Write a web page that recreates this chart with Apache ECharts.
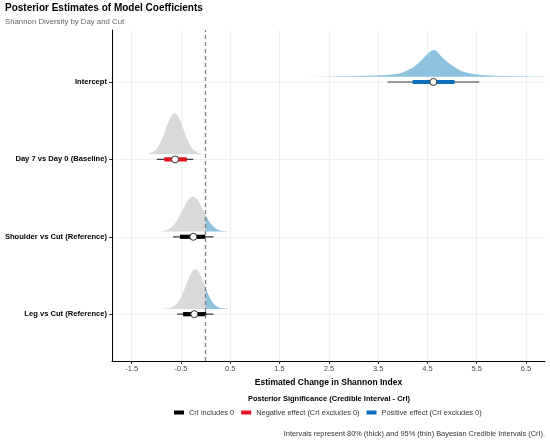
<!DOCTYPE html>
<html>
<head>
<meta charset="utf-8">
<script src="https://cdn.jsdelivr.net/npm/echarts@6/dist/echarts.min.js"></script>
<style>
  html, body { margin: 0; padding: 0; background: #fff; }
  #chart { width: 550px; height: 441px; }
</style>
</head>
<body>
<div id="chart"></div>
<script>
// coefficients, top to bottom
var coefNames = ['Intercept', 'Day 7 vs Day 0 (Baseline)', 'Shoulder vs Cut (Reference)', 'Leg vs Cut (Reference)'];
var rowPos = [4, 3, 2, 1];

// posterior summaries
var medians = [4.62, -0.62, -0.25, -0.23];
var lo80 = [4.20, -0.84, -0.52, -0.46];
var hi80 = [5.05, -0.38, -0.01, 0.01];
var lo95 = [3.69, -0.99, -0.66, -0.58];
var hi95 = [5.55, -0.25, 0.16, 0.16];
var signif = ['pos', 'neg', 'zero', 'zero'];

// posterior densities (x, density)
var densX_intercept = [2.0, 2.5, 3.0, 3.4, 3.7, 3.9, 4.0, 4.1, 4.2, 4.3, 4.4, 4.5, 4.55, 4.6, 4.63, 4.67, 4.7, 4.8, 4.9, 5.0, 5.1, 5.2, 5.37, 5.6, 5.9, 6.3, 6.9];
var densY_intercept = [0.006, 0.017, 0.036, 0.065, 0.10, 0.16, 0.23, 0.35, 0.49, 0.70, 0.96, 1.23, 1.35, 1.43, 1.45, 1.42, 1.35, 1.04, 0.81, 0.61, 0.435, 0.30, 0.17, 0.10, 0.058, 0.029, 0.006];
var densX_day7 = [-1.15, -1.05, -1.0, -0.95, -0.9, -0.85, -0.8, -0.75, -0.7, -0.65, -0.6, -0.55, -0.5, -0.45, -0.4, -0.35, -0.3, -0.25, -0.15, -0.05];
var densY_day7 = [0.034, 0.146, 0.268, 0.457, 0.721, 1.053, 1.421, 1.778, 2.058, 2.206, 2.189, 2.011, 1.71, 1.347, 0.981, 0.661, 0.413, 0.240, 0.063, 0.012];
var densX_shoulder = [-0.92, -0.8, -0.7, -0.65, -0.6, -0.55, -0.5, -0.45, -0.4, -0.35, -0.3, -0.25, -0.2, -0.15, -0.1, -0.05, 0.0, 0.05, 0.1, 0.15, 0.2, 0.25, 0.3, 0.43];
var densY_shoulder = [0.013, 0.070, 0.211, 0.339, 0.513, 0.732, 0.988, 1.262, 1.52, 1.733, 1.866, 1.898, 1.824, 1.657, 1.421, 1.153, 0.884, 0.638, 0.437, 0.283, 0.173, 0.099, 0.053, 0.009];
var densX_leg = [-0.86, -0.75, -0.65, -0.6, -0.55, -0.5, -0.45, -0.4, -0.35, -0.3, -0.25, -0.2, -0.15, -0.1, -0.05, 0.0, 0.05, 0.1, 0.15, 0.2, 0.25, 0.3, 0.46];
var densY_leg = [0.004, 0.030, 0.127, 0.234, 0.400, 0.632, 0.931, 1.274, 1.622, 1.920, 2.110, 2.157, 2.050, 1.810, 1.486, 1.134, 0.806, 0.531, 0.326, 0.186, 0.098, 0.048, 0.003];

var xTicks = [-1.5, -0.5, 0.5, 1.5, 2.5, 3.5, 4.5, 5.5, 6.5];
var legendNames = ['CrI includes 0', 'Negative effect (CrI excludes 0)', 'Positive effect (CrI excludes 0)'];

// styles
var sigColor = { zero: '#000000', neg: '#E3121F', pos: '#0A6EBD' };
var fillGray = '#D9D9D9';
var fillBlue = '#8EC3E0';
var slabScale = 0.239; // row units per density unit
var slabLift = 0.068;

var densX = [densX_intercept, densX_day7, densX_shoulder, densX_leg];
var densY = [densY_intercept, densY_day7, densY_shoulder, densY_leg];

// split each density at zero: grey below, blue above
var slabParts = [];
for (let i = 0; i < coefNames.length; i++) {
	var gx = [], gy = [], bx = [], by = [];
	densX[i].forEach(function (x, j) {
		if (x <= 0) { gx.push(x); gy.push(densY[i][j]); }
		if (x >= 0) { bx.push(x); by.push(densY[i][j]); }
	});
	if (gx.length > 1) slabParts.push({ xs: gx, ys: gy, row: rowPos[i], color: fillGray });
	if (bx.length > 1) slabParts.push({ xs: bx, ys: by, row: rowPos[i], color: fillBlue });
}

var intervalData = coefNames.map(function (n, i) {
	return [medians[i], rowPos[i], lo95[i], hi95[i], lo80[i], hi80[i], i];
});

var myChart = echarts.init(document.getElementById('chart'));

var option = {
	backgroundColor: '#ffffff',
	animation: false,
	textStyle: { fontFamily: 'Liberation Sans, Arial, sans-serif' },
	title: [
		{
			text: 'Posterior Estimates of Model Coefficients',
			subtext: 'Shannon Diversity by Day and Cut',
			left: 5, top: 3, padding: 0, itemGap: 5,
			textStyle: { fontSize: 10, fontWeight: 'bold', color: '#000' },
			subtextStyle: { fontSize: 7.8, color: '#666' }
		},
		{
			text: 'Posterior Significance (Credible Interval - CrI)',
			left: 329, top: 395, padding: 0, textAlign: 'center',
			textStyle: { fontSize: 7.5, fontWeight: 'bold', color: '#000' }
		},
		{
			text: 'Intervals represent 80% (thick) and 95% (thin) Bayesian Credible Intervals (CrI).',
			right: 5, top: 430, padding: 0,
			textStyle: { fontSize: 7.4, fontWeight: 'normal', color: '#333' }
		}
	],
	legend: {
		data: legendNames,
		left: 174, top: 409,
		icon: 'rect', itemWidth: 10, itemHeight: 4, itemGap: 7,
		padding: 0,
		textStyle: { fontSize: 7.4, color: '#333' }
	},
	grid: { left: 112, right: 5, top: 30, bottom: 80 },
	xAxis: {
		type: 'value', min: -1.9, max: 6.886,
		name: 'Estimated Change in Shannon Index',
		nameLocation: 'middle', nameGap: 17,
		nameTextStyle: { fontSize: 8.5, fontWeight: 'bold', color: '#000' },
		axisLine: { show: true, onZero: false, lineStyle: { color: '#000', width: 1 } },
		axisTick: { show: true, customValues: xTicks, length: 3, lineStyle: { color: '#333' } },
		axisLabel: { customValues: xTicks, fontSize: 7.5, color: '#4d4d4d', margin: 4 },
		splitLine: { show: true, lineStyle: { color: '#ebebeb', width: 0.8 } }
	},
	yAxis: {
		type: 'value', min: 0.395, max: 4.672,
		axisLine: { show: true, onZero: false, lineStyle: { color: '#000', width: 1 } },
		axisTick: { show: true, customValues: rowPos, length: 3, lineStyle: { color: '#333' } },
		axisLabel: {
			customValues: rowPos, fontSize: 7.6, fontWeight: 'bold', color: '#000', margin: 5,
			formatter: function (v) { return coefNames[rowPos.indexOf(Math.round(v))]; }
		},
		splitLine: { show: true, lineStyle: { color: '#ebebeb', width: 0.8 } }
	},
	series: [
		{
			name: 'slabs',
			type: 'custom',
			z: 2,
			clip: true,
			silent: true,
			data: slabParts.map(function (p, k) { return [p.xs[0], p.row, k]; }),
			renderItem: function (params, api) {
				var p = slabParts[params.dataIndex];
				var base = p.row + slabLift;
				var pts = [api.coord([p.xs[0], base])];
				p.xs.forEach(function (x, j) {
					pts.push(api.coord([x, base + p.ys[j] * slabScale]));
				});
				pts.push(api.coord([p.xs[p.xs.length - 1], base]));
				return { type: 'polygon', shape: { points: pts }, style: { fill: p.color } };
			},
			markLine: {
				silent: true, symbol: 'none', label: { show: false },
				lineStyle: { color: '#808080', type: [4, 3], width: 1.3 },
				data: [{ xAxis: 0 }]
			}
		},
		{
			name: 'intervals',
			type: 'custom',
			z: 4,
			silent: true,
			data: intervalData,
			renderItem: function (params, api) {
				var idx = api.value(6);
				var col = sigColor[signif[idx]];
				var y = api.value(1);
				var a95 = api.coord([api.value(2), y]);
				var b95 = api.coord([api.value(3), y]);
				var a80 = api.coord([api.value(4), y]);
				var b80 = api.coord([api.value(5), y]);
				var m = api.coord([api.value(0), y]);
				return {
					type: 'group',
					children: [
						{ type: 'line', shape: { x1: a95[0], y1: a95[1], x2: b95[0], y2: b95[1] }, style: { stroke: '#3a3a3a', lineWidth: 1.2 } },
						{ type: 'line', shape: { x1: a80[0], y1: a80[1], x2: b80[0], y2: b80[1] }, style: { stroke: col, lineWidth: 4.2 } },
						{ type: 'circle', shape: { cx: m[0], cy: m[1], r: 3.5 }, style: { fill: '#fff', stroke: '#333', lineWidth: 1 } }
					]
				};
			}
		},
		{ name: legendNames[0], type: 'line', data: [], itemStyle: { color: sigColor.zero }, lineStyle: { color: sigColor.zero } },
		{ name: legendNames[1], type: 'line', data: [], itemStyle: { color: sigColor.neg }, lineStyle: { color: sigColor.neg } },
		{ name: legendNames[2], type: 'line', data: [], itemStyle: { color: sigColor.pos }, lineStyle: { color: sigColor.pos } }
	]
};

myChart.setOption(option);
</script>
</body>
</html>
